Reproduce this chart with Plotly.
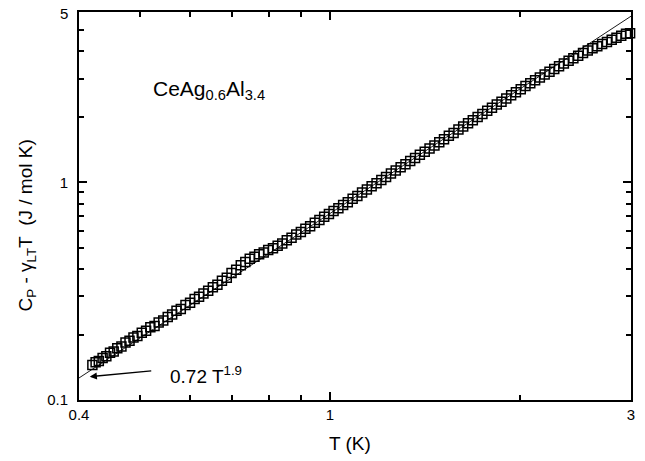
import math
import plotly.graph_objects as go

T_K = [0.420, 0.425, 0.430, 0.436, 0.442, 0.448, 0.454, 0.460, 0.467, 0.474,
       0.481, 0.488, 0.495, 0.503, 0.511, 0.519, 0.527, 0.535, 0.544, 0.553,
       0.562, 0.571, 0.580, 0.590, 0.600, 0.610, 0.620, 0.630, 0.641, 0.652,
       0.663, 0.674, 0.686, 0.698, 0.710, 0.722, 0.734, 0.746, 0.759, 0.772,
       0.785, 0.798, 0.812, 0.826, 0.840, 0.854, 0.869, 0.884, 0.899, 0.914,
       0.930, 0.946, 0.962, 0.979, 0.996, 1.013, 1.031, 1.049, 1.067, 1.086,
       1.105, 1.124, 1.144, 1.164, 1.185, 1.206, 1.227, 1.249, 1.271, 1.294,
       1.317, 1.340, 1.364, 1.388, 1.413, 1.438, 1.464, 1.490, 1.516, 1.543,
       1.570, 1.598, 1.626, 1.655, 1.684, 1.714, 1.744, 1.775, 1.806, 1.838,
       1.870, 1.903, 1.937, 1.971, 2.006, 2.041, 2.077, 2.114, 2.151, 2.189,
       2.228, 2.267, 2.307, 2.348, 2.389, 2.431, 2.474, 2.518, 2.562, 2.607,
       2.653, 2.700, 2.748, 2.796, 2.845, 2.895, 2.946, 2.990]
C_mag = [0.145, 0.149, 0.151, 0.156, 0.159, 0.165, 0.167, 0.173, 0.176, 0.184,
         0.187, 0.194, 0.197, 0.204, 0.208, 0.216, 0.219, 0.227, 0.232, 0.241,
         0.247, 0.257, 0.262, 0.273, 0.280, 0.291, 0.298, 0.309, 0.318, 0.330,
         0.339, 0.353, 0.365, 0.383, 0.397, 0.416, 0.431, 0.446, 0.455, 0.467,
         0.476, 0.489, 0.498, 0.512, 0.524, 0.542, 0.557, 0.576, 0.592, 0.612,
         0.629, 0.652, 0.671, 0.695, 0.715, 0.739, 0.761, 0.788, 0.811, 0.841,
         0.867, 0.898, 0.927, 0.961, 0.991, 1.027, 1.059, 1.098, 1.133, 1.174,
         1.212, 1.254, 1.295, 1.341, 1.384, 1.433, 1.479, 1.531, 1.580, 1.637,
         1.689, 1.749, 1.805, 1.869, 1.929, 1.997, 2.061, 2.133, 2.202, 2.279,
         2.351, 2.432, 2.512, 2.597, 2.681, 2.771, 2.859, 2.951, 3.039, 3.131,
         3.229, 3.321, 3.419, 3.521, 3.619, 3.721, 3.819, 3.931, 4.038, 4.131,
         4.229, 4.321, 4.419, 4.521, 4.619, 4.721, 4.819, 4.850]

# Power-law fit shown on the chart: 0.72 T^1.9
FIT_A = 0.72
FIT_N = 1.9
FIT_T = [0.4, 3.0]
FIT_C = [FIT_A * t ** FIT_N for t in FIT_T]

X_RANGE = [0.4, 3.0]
Y_RANGE = [0.1, 6.07]
X_MAJOR = [0.4, 1, 3]
X_MAJOR_TEXT = ["0.4", "1", "3"]
X_MINOR = [0.5, 0.6, 0.7, 0.8, 0.9, 2]
Y_MAJOR = [0.1, 1]
Y_MAJOR_TEXT = ["0.1", "1"]
Y_MINOR = [0.2, 0.3, 0.4, 0.5, 0.6, 0.7, 0.8, 0.9, 2, 3, 4, 5]

FONT = "Liberation Sans, Arial, Helvetica, sans-serif"

fig = go.Figure()
fig.add_trace(go.Scatter(
    x=T_K, y=C_mag, mode="markers",
    marker=dict(symbol="square-open", size=9, color="black",
                line=dict(width=1.5, color="black")),
    showlegend=False, cliponaxis=False))
fig.add_trace(go.Scatter(
    x=FIT_T, y=FIT_C, mode="lines",
    line=dict(color="black", width=0.9), showlegend=False))

axis_common = dict(
    showgrid=False, zeroline=False, showline=True, linecolor="black",
    linewidth=2, mirror="allticks", ticks="inside", ticklen=8, tickwidth=1.5,
    tickcolor="black", tickfont=dict(family=FONT, size=15, color="black"),
)
fig.update_xaxes(type="log", range=[math.log10(X_RANGE[0]), math.log10(X_RANGE[1])],
                 tickmode="array", tickvals=X_MAJOR, ticktext=X_MAJOR_TEXT,
                 minor=dict(tickmode="array", tickvals=X_MINOR, ticks="inside",
                            ticklen=5, tickwidth=1.5, tickcolor="black"),
                 **axis_common)
fig.update_yaxes(type="log", range=[math.log10(Y_RANGE[0]), math.log10(Y_RANGE[1])],
                 tickmode="array", tickvals=Y_MAJOR, ticktext=Y_MAJOR_TEXT,
                 ticklabelstandoff=6,
                 minor=dict(tickmode="array", tickvals=Y_MINOR, ticks="inside",
                            ticklen=5, tickwidth=1.5, tickcolor="black"),
                 **axis_common)

annotations = [
    dict(text="5", xref="paper", yref="paper", x=-0.017, y=0.995,
         xanchor="right", yanchor="middle", showarrow=False,
         font=dict(family=FONT, size=15, color="black")),
    dict(text="T (K)", xref="paper", yref="paper", x=0.491, y=-0.113,
         xanchor="center", yanchor="middle", showarrow=False,
         font=dict(family=FONT, size=19, color="black")),
    dict(text="C<sub>P</sub> - γ<sub>LT</sub>T&nbsp;&nbsp;(J / mol K)",
         xref="paper", yref="paper", x=-0.094, y=0.45, textangle=-90,
         xanchor="center", yanchor="middle", showarrow=False,
         font=dict(family=FONT, size=19, color="black")),
    dict(text="CeAg<sub>0.6</sub>Al<sub>3.4</sub>", xref="paper", yref="paper",
         x=0.131, y=0.80, xanchor="left", yanchor="middle", showarrow=False,
         font=dict(family=FONT, size=21, color="black")),
    dict(text="0.72 T<sup>1.9</sup>", xref="paper", yref="paper",
         x=0.162, y=0.065, xanchor="left", yanchor="middle", showarrow=False,
         font=dict(family=FONT, size=19, color="black")),
    dict(text="", x=math.log10(0.416), y=math.log10(0.128), xref="x", yref="y",
         showarrow=True, arrowhead=2, arrowsize=1.1, arrowwidth=1.3,
         arrowcolor="black", ax=63, ay=-6, axref="pixel", ayref="pixel"),
]

fig.update_layout(
    width=645, height=461,
    margin=dict(l=79, r=10, t=12, b=61),
    paper_bgcolor="white", plot_bgcolor="white",
    font=dict(family=FONT, color="black"),
    annotations=annotations,
)

fig.write_html("out.html",
               config={"displayModeBar": False},
               post_script="document.body.style.margin='0';document.body.style.overflow='hidden';")
